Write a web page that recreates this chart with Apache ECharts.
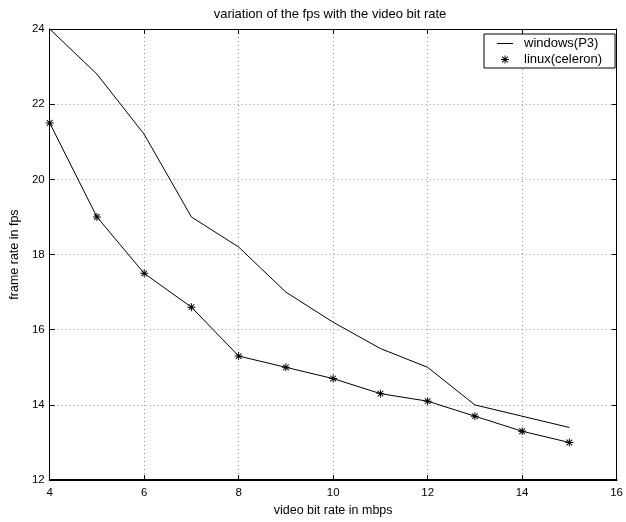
<!DOCTYPE html>
<html><head><meta charset="utf-8">
<script src="https://cdn.jsdelivr.net/npm/echarts@6/dist/echarts.min.js"></script>
<style>html,body{margin:0;padding:0;background:#fff}#c{width:626px;height:522px}</style>
</head><body><div id="c"></div>
<script>
const bitRates = [4,5,6,7,8,9,10,11,12,13,14,15];
const windowsFps = [24,22.8,21.2,19,18.2,17,16.2,15.5,15,14,13.7,13.4];
const linuxFps = [21.5,19,17.5,16.6,15.3,15,14.7,14.3,14.1,13.7,13.3,13];
const xTicks = [4,6,8,10,12,14,16];
const yTicks = [12,14,16,18,20,22,24];

const FONT = 'Liberation Sans';
const star = 'path://M-0.6,-5 L0.6,-5 L0.6,5 L-0.6,5 Z M-5,-0.6 L5,-0.6 L5,0.6 L-5,0.6 Z M-3.11,-3.96 L3.96,3.11 L3.11,3.96 L-3.96,-3.11 Z M-3.96,3.11 L3.11,-3.96 L3.96,-3.11 L-3.11,3.96 Z';
const lineIcon = 'path://M0,0 L16,0 L16,1 L0,1 Z';

const chart = echarts.init(document.getElementById('c'), null, {renderer:'canvas'});
const gridLine = {show:true, lineStyle:{color:'#999', type:[1,3], width:1}};
const tick = {show:true, inside:true, length:5, lineStyle:{color:'#000'}};
const axisLine = w => ({show:true, onZero:false, lineStyle:{color:'#000', width:w}});
chart.setOption({
  animation:false,
  backgroundColor:'#fff',
  title:{text:'variation of the fps with the video bit rate', left:330, textAlign:'center', top:8, padding:0,
    textStyle:{fontFamily:FONT, fontSize:13, fontWeight:'normal', color:'#000'}},
  grid:{left:43, right:9, top:29, bottom:41},
  legend:{
    orient:'vertical', left:484, top:34, padding:[3,13,2,13], itemGap:3,
    borderColor:'#000', borderWidth:1, backgroundColor:'#fff',
    itemWidth:16, itemHeight:8, symbolKeepAspect:true,
    textStyle:{fontFamily:FONT, fontSize:13, lineHeight:13, color:'#000', padding:[0,0,0,6]},
    data:[{name:'windows(P3)', icon:lineIcon}, {name:'linux(celeron)', icon:star}]
  },
  xAxis:[
    {type:'value', min:4, max:16, interval:2, position:'bottom',
      name:'video bit rate in mbps', nameLocation:'middle', nameGap:21,
      nameTextStyle:{fontFamily:FONT, fontSize:12.5, color:'#000'},
      axisLine:axisLine(2), axisTick:tick,
      axisLabel:{fontFamily:FONT, fontSize:11.5, color:'#000', margin:7,
        formatter:v=>xTicks.includes(v)?String(v):''},
      splitLine:gridLine},
    {type:'value', min:4, max:16, interval:2, position:'top',
      axisLine:axisLine(1), axisTick:tick,
      axisLabel:{show:false}, splitLine:{show:false}}
  ],
  yAxis:[
    {type:'value', min:12, max:24, interval:2, position:'left',
      name:'frame rate in fps', nameLocation:'middle', nameGap:22, nameRotate:90,
      nameTextStyle:{fontFamily:FONT, fontSize:12.5, color:'#000'},
      axisLine:axisLine(1), axisTick:tick,
      axisLabel:{fontFamily:FONT, fontSize:11.5, color:'#000', margin:5,
        formatter:v=>yTicks.includes(v)?String(v):''},
      splitLine:gridLine},
    {type:'value', min:12, max:24, interval:2, position:'right',
      axisLine:axisLine(1), axisTick:tick,
      axisLabel:{show:false}, splitLine:{show:false}}
  ],
  series:[
    {name:'windows(P3)', type:'line', data:bitRates.map((x,i)=>[x,windowsFps[i]]),
      showSymbol:false, symbol:'none', lineStyle:{color:'#000', width:1},
      itemStyle:{color:'#000'}},
    {name:'linux(celeron)', type:'line', data:bitRates.map((x,i)=>[x,linuxFps[i]]),
      symbol:star, symbolSize:8, showSymbol:true, lineStyle:{color:'#000', width:1},
      itemStyle:{color:'#000'}}
  ]
});
</script></body></html>
